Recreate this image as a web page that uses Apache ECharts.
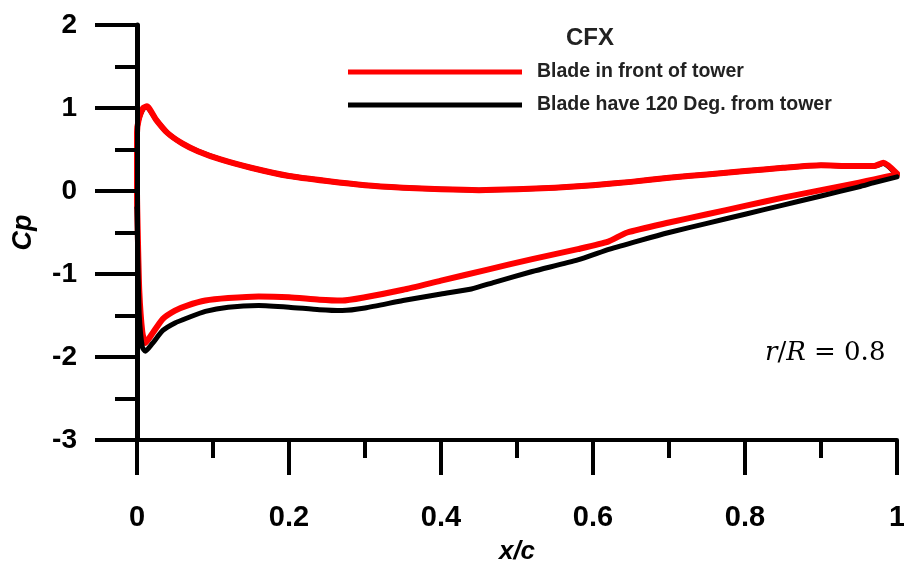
<!DOCTYPE html>
<html>
<head>
<meta charset="utf-8">
<script src="https://cdn.jsdelivr.net/npm/echarts@6/dist/echarts.min.js"></script>
<style>
  html, body { margin: 0; padding: 0; background: #fff; }
  #chart { width: 904px; height: 569px; }
</style>
</head>
<body>
<div id="chart"></div>
<script>
// Pressure coefficient around the blade section at r/R = 0.8 (CFX results)
const seriesNames = ['Blade in front of tower', 'Blade have 120 Deg. from tower'];
const xTickLabels = ['0', '0.2', '0.4', '0.6', '0.8', '1'];
const yTickLabels = ['-3', '-2', '-1', '0', '1', '2'];

// Blade in front of tower: trailing edge -> upper curve -> leading edge -> lower curve -> trailing edge
const frontX = [1.0, 0.982, 0.97, 0.94, 0.90, 0.85, 0.80, 0.75, 0.70, 0.65, 0.60, 0.55, 0.50, 0.45, 0.40, 0.35, 0.30, 0.25, 0.20, 0.15, 0.11, 0.08, 0.06, 0.04, 0.025, 0.013, 0.008, 0.002, 0.0, 0.0,
                0.001, 0.003, 0.007, 0.011, 0.02, 0.034, 0.05, 0.066, 0.09, 0.12, 0.16, 0.20, 0.24, 0.27, 0.30, 0.35, 0.40, 0.46, 0.52, 0.58, 0.62, 0.645, 0.70, 0.75, 0.80, 0.85, 0.90, 0.95, 0.97, 1.0];
const frontCp = [0.21, 0.34, 0.30, 0.30, 0.31, 0.28, 0.24, 0.20, 0.16, 0.11, 0.07, 0.04, 0.02, 0.01, 0.02, 0.04, 0.07, 0.12, 0.18, 0.28, 0.38, 0.48, 0.57, 0.70, 0.86, 1.02, 1.0, 0.85, 0.70, 0.0,
                 -0.5, -1.2, -1.7, -1.83, -1.72, -1.54, -1.44, -1.38, -1.32, -1.29, -1.27, -1.28, -1.31, -1.32, -1.28, -1.19, -1.08, -0.95, -0.82, -0.70, -0.61, -0.50, -0.38, -0.28, -0.18, -0.08, 0.01, 0.10, 0.14, 0.20];

// Blade 120 deg. from tower, upper curve (trailing edge -> leading edge)
const sideUpperX = [1.0, 0.982, 0.97, 0.94, 0.90, 0.85, 0.80, 0.75, 0.70, 0.65, 0.60, 0.55, 0.50, 0.45, 0.40, 0.35, 0.30, 0.25, 0.20, 0.15, 0.11, 0.08, 0.06, 0.04, 0.025, 0.013, 0.008, 0.002, 0.0, 0.0];
const sideUpperCp = [0.19, 0.33, 0.30, 0.30, 0.31, 0.28, 0.24, 0.20, 0.16, 0.11, 0.07, 0.04, 0.02, 0.01, 0.02, 0.04, 0.07, 0.12, 0.18, 0.28, 0.38, 0.48, 0.57, 0.70, 0.86, 1.01, 0.99, 0.85, 0.70, -0.2];
// Blade 120 deg. from tower, lower curve (leading edge -> trailing edge)
const sideLowerX = [0.0, 0.001, 0.003, 0.007, 0.011, 0.02, 0.034, 0.05, 0.066, 0.09, 0.12, 0.16, 0.20, 0.24, 0.27, 0.30, 0.35, 0.40, 0.44, 0.47, 0.52, 0.58, 0.622, 0.66, 0.70, 0.75, 0.80, 0.85, 0.90, 0.95, 0.97, 1.0];
const sideLowerCp = [-0.2, -0.8, -1.5, -1.88, -1.93, -1.84, -1.68, -1.59, -1.53, -1.45, -1.40, -1.38, -1.40, -1.43, -1.44, -1.41, -1.32, -1.24, -1.18, -1.10, -0.97, -0.83, -0.70, -0.60, -0.50, -0.39, -0.28, -0.17, -0.06, 0.05, 0.10, 0.17];

const pairs = (xs, ys) => xs.map((x, i) => [x, ys[i]]);

const chart = echarts.init(document.getElementById('chart'), null, { renderer: 'canvas' });

const axisFont = { fontFamily: 'Liberation Sans, Arial, sans-serif', fontWeight: 'bold', color: '#000' };

chart.setOption({
  animation: false,
  backgroundColor: '#fff',
  grid: { left: 137, right: 7, top: 25, bottom: 129, outerBoundsMode: 'none' },
  title: {
    text: 'CFX', left: 566, top: 26, padding: 0,
    textStyle: { fontFamily: 'Liberation Sans, Arial, sans-serif', fontSize: 24, fontWeight: 'bold', color: '#222' }
  },
  legend: {
    data: seriesNames,
    orient: 'vertical', left: 348, top: 62, padding: 0,
    itemWidth: 174, itemHeight: 5, itemGap: 13, icon: 'rect',
    textStyle: { fontFamily: 'Liberation Sans, Arial, sans-serif', fontSize: 19.5, fontWeight: 'bold', color: '#222', padding: [0, 0, 0, 10] }
  },
  xAxis: {
    type: 'value', min: 0, max: 1, interval: 0.2,
    name: 'x/c', nameLocation: 'middle', nameGap: 99,
    nameTextStyle: Object.assign({ fontSize: 26, fontStyle: 'italic' }, axisFont),
    axisLine: { onZero: false, lineStyle: { color: '#000', width: 4 } },
    axisTick: { length: 35, lineStyle: { color: '#000', width: 4 } },
    minorTick: { show: true, splitNumber: 2, length: 18, lineStyle: { color: '#000', width: 4 } },
    splitLine: { show: false },
    axisLabel: Object.assign({ fontSize: 29, margin: 63, formatter: (v) => xTickLabels[Math.round(v / 0.2)] }, axisFont)
  },
  yAxis: {
    type: 'value', min: -3, max: 2, interval: 1,
    name: 'Cp', nameLocation: 'middle', nameGap: 100,
    nameTextStyle: Object.assign({ fontSize: 27, fontStyle: 'italic' }, axisFont),
    axisLine: { onZero: false, lineStyle: { color: '#000', width: 5 } },
    axisTick: { length: 42, lineStyle: { color: '#000', width: 4 } },
    minorTick: { show: true, splitNumber: 2, length: 22, lineStyle: { color: '#000', width: 4 } },
    splitLine: { show: false },
    z: 3,
    axisLabel: Object.assign({ fontSize: 28, margin: 60, formatter: (v) => yTickLabels[Math.round(v) + 3] }, axisFont)
  },
  graphic: [{
    type: 'text', left: 765, top: 340,
    style: {
      text: '{i|r}{n|/}{i|R}{n| = 0.8}',
      rich: {
        i: { fontFamily: 'DejaVu Serif, Liberation Serif, serif', fontStyle: 'italic', fontSize: 26, fill: '#000' },
        n: { fontFamily: 'DejaVu Serif, Liberation Serif, serif', fontSize: 26, fill: '#000' }
      }
    }
  }],
  series: [
    {
      name: seriesNames[1], type: 'line', z: 1,
      data: pairs(sideUpperX, sideUpperCp),
      showSymbol: false, smooth: 0.2, color: '#000',
      lineStyle: { color: '#000', width: 5, cap: 'round', join: 'round' }
    },
    {
      name: seriesNames[0], type: 'line', z: 2,
      data: pairs(frontX, frontCp),
      showSymbol: false, smooth: 0.2, color: '#ff0000',
      lineStyle: { color: '#ff0000', width: 6, cap: 'round', join: 'round' }
    },
    {
      name: seriesNames[1], type: 'line', z: 4,
      data: pairs(sideLowerX, sideLowerCp),
      showSymbol: false, smooth: 0.2, color: '#000',
      lineStyle: { color: '#000', width: 5, cap: 'round', join: 'round' }
    }
  ]
});
</script>
</body>
</html>
